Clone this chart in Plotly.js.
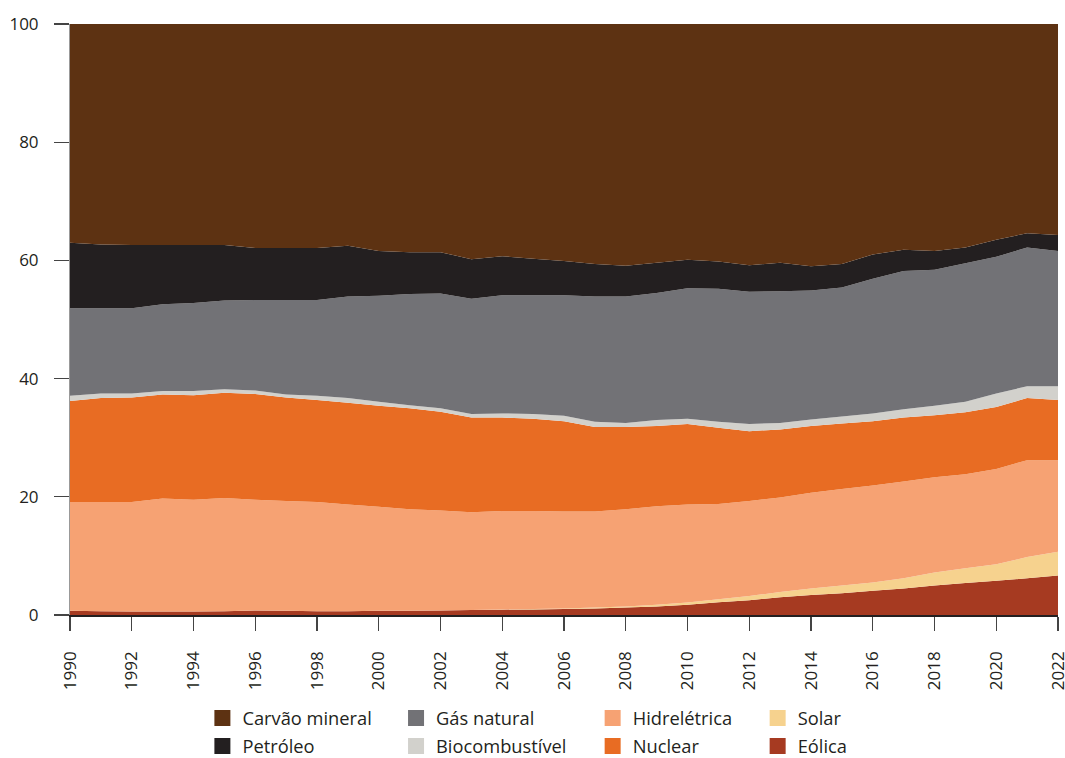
<!DOCTYPE html>
<html>
<head>
<meta charset="utf-8">
<script src="https://cdn.plot.ly/plotly-3.0.1.min.js"></script>
<style>html,body{margin:0;padding:0;background:#fff;}#chart{width:1065px;height:758px;}</style>
</head>
<body>
<div id="chart"></div>
<script>
const years = [1990,1991,1992,1993,1994,1995,1996,1997,1998,1999,2000,2001,2002,2003,2004,2005,2006,2007,2008,2009,2010,2011,2012,2013,2014,2015,2016,2017,2018,2019,2020,2021,2022];

const eolica = [0.7,0.65,0.6,0.6,0.6,0.65,0.75,0.7,0.65,0.65,0.7,0.7,0.75,0.85,0.9,0.95,1.0,1.1,1.25,1.45,1.75,2.15,2.5,3.0,3.4,3.7,4.1,4.5,5.0,5.4,5.8,6.2,6.7];
const solar = [0,0,0,0,0,0,0,0,0,0,0,0,0,0,0.02,0.05,0.1,0.15,0.2,0.3,0.35,0.5,0.7,0.9,1.1,1.3,1.4,1.7,2.2,2.5,2.8,3.6,4.0];
const hidreletrica = [18.4,18.45,18.5,19.1,18.9,19.15,18.75,18.6,18.45,18.05,17.6,17.2,16.95,16.55,16.68,16.6,16.4,16.25,16.45,16.65,16.6,16.15,16.1,16.0,16.2,16.3,16.4,16.4,16.1,15.9,16.1,16.4,15.5];
const nuclear = [17.1,17.6,17.7,17.6,17.7,17.8,17.9,17.5,17.3,17.2,17.1,17.1,16.7,16.0,15.8,15.6,15.3,14.3,13.9,13.6,13.6,12.9,11.8,11.5,11.3,11.1,10.9,10.8,10.5,10.5,10.5,10.5,10.2];
const biocombustivel = [0.9,0.8,0.7,0.6,0.7,0.6,0.6,0.5,0.7,0.8,0.7,0.5,0.6,0.6,0.7,0.8,0.9,0.9,0.7,1.0,0.9,1.0,1.2,1.1,1.1,1.2,1.3,1.4,1.6,1.8,2.3,2.0,2.3];
const gasNatural = [14.8,14.4,14.4,14.7,14.9,15.0,15.3,16.0,16.2,17.2,17.9,18.8,19.4,19.5,20.0,20.1,20.4,21.2,21.4,21.5,22.1,22.5,22.4,22.3,21.8,21.8,22.8,23.4,23.0,23.4,23.1,23.5,22.9];
const petroleo = [11.1,10.8,10.7,10.0,9.8,9.4,8.8,8.8,8.8,8.6,7.6,7.1,7.0,6.7,6.6,6.2,5.8,5.5,5.2,5.1,4.8,4.6,4.5,4.8,4.1,4.0,4.1,3.6,3.2,2.7,2.9,2.4,2.7];
const carvao = [37.0,37.3,37.4,37.4,37.4,37.4,37.9,37.9,37.9,37.5,38.4,38.6,38.6,39.8,39.3,39.7,40.1,40.6,40.9,40.4,39.9,40.2,40.8,40.4,41.0,40.6,39.0,38.2,38.4,37.8,36.5,35.4,35.7];

const xTicks = [1990,1992,1994,1996,1998,2000,2002,2004,2006,2008,2010,2012,2014,2016,2018,2020,2022];
const yTicks = [0,20,40,60,80,100];

const series = [
  {name:'Eólica', y:eolica, color:'#A63A21', legend:'legend8'},
  {name:'Solar', y:solar, color:'#F6D28E', legend:'legend7'},
  {name:'Hidrelétrica', y:hidreletrica, color:'#F6A273', legend:'legend5'},
  {name:'Nuclear', y:nuclear, color:'#E86C23', legend:'legend6'},
  {name:'Biocombustível', y:biocombustivel, color:'#D2D1CC', legend:'legend4'},
  {name:'Gás natural', y:gasNatural, color:'#727276', legend:'legend3'},
  {name:'Petróleo', y:petroleo, color:'#231F20', legend:'legend2'},
  {name:'Carvão mineral', y:carvao, color:'#5D3212', legend:'legend'}
];

const traces = [];
series.forEach(s => {
  traces.push({
    type:'scatter', x:years, y:s.y, name:s.name, stackgroup:'one',
    mode:'none', fillcolor:s.color, line:{width:0}, showlegend:false, hoverinfo:'x+y+name'
  });
});
series.forEach(s => {
  traces.push({
    type:'scatter', x:[null], y:[null], name:s.name, mode:'markers',
    marker:{symbol:'square', size:16, color:s.color}, legend:s.legend, showlegend:true, hoverinfo:'skip'
  });
});

const fam = 'Open Sans, Noto Sans, sans-serif';
const font = {family:fam, size:17, color:'#231F20'};
const legFont = {family:fam, size:18.3, color:'#231F20'};
const colX = [0.134, 0.330, 0.529, 0.696];
function lg(x, y){
  return {x:x, y:y, xanchor:'left', yanchor:'middle', orientation:'v', font:legFont, bgcolor:'rgba(0,0,0,0)', borderwidth:0};
}
const row1 = -0.1745, row2 = -0.2217;

const layout = {
  width:1065, height:758,
  margin:{l:70, r:7, t:24, b:143, autoexpand:false},
  paper_bgcolor:'#fff', plot_bgcolor:'#fff',
  font:font,
  showlegend:true,
  xaxis:{
    range:[1989.9999,2022.0001], tickmode:'array', tickvals:xTicks, ticktext:xTicks.map(String), tickangle:-90,
    ticks:'outside', ticklen:14, tickcolor:'#444', tickwidth:1.2,
    showline:true, linecolor:'#231F20', linewidth:1.5, showgrid:false, zeroline:false,
    ticklabelstandoff:14, ticklabeloverflow:'allow',
    tickfont:{family:fam, size:17, color:'#231F20'}, fixedrange:true, automargin:false
  },
  yaxis:{
    range:[0,100], tickmode:'array', tickvals:yTicks, ticks:'outside', ticklen:15, tickcolor:'#444', tickwidth:1.2,
    showline:true, linecolor:'#999', linewidth:1, showgrid:false, zeroline:false,
    ticklabelstandoff:12,
    tickfont:{family:fam, size:17, color:'#231F20'}, fixedrange:true, automargin:false
  },
  legend: lg(colX[0], row1),
  legend2: lg(colX[0], row2),
  legend3: lg(colX[1], row1),
  legend4: lg(colX[1], row2),
  legend5: lg(colX[2], row1),
  legend6: lg(colX[2], row2),
  legend7: lg(colX[3], row1),
  legend8: lg(colX[3], row2)
};

Plotly.newPlot('chart', traces, layout, {displayModeBar:false, staticPlot:true});
</script>
</body>
</html>
